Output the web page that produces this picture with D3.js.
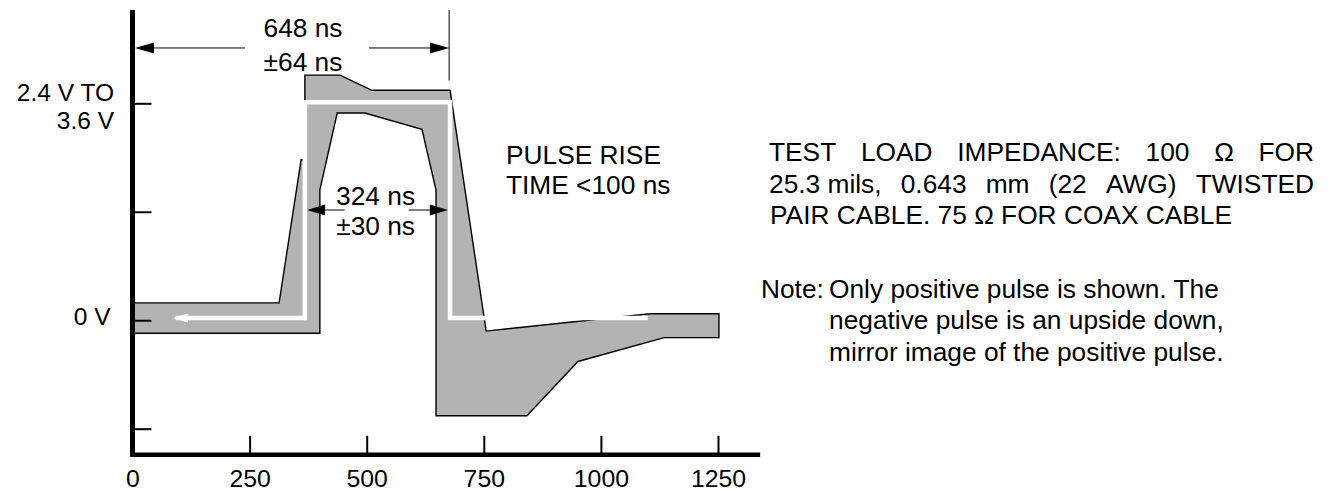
<!DOCTYPE html>
<html><head><meta charset="utf-8">
<script src="https://cdn.jsdelivr.net/npm/d3@7"></script>
<style>
html,body{margin:0;padding:0;background:#fff;}
svg{display:block;}
text{font-family:"Liberation Sans", Arial, Helvetica, sans-serif; fill:#000;}
</style></head><body>
<svg id="chart" width="1335" height="493"></svg>
<script>
// ---------- data (time in ns, amplitude normalised: 0 = 0 V, 1 = nominal peak) ----------
const xTickValues = [0, 250, 500, 750, 1000, 1250];
const yTickValues = [1, 0.5, 0, -0.5];
const yLevelValues = [1, 0];
const yLevelLabels = [["2.4 V TO", "3.6 V"], ["0 V"]];

// upper limit of the pulse template (left to right)
const maskUpper = [[0, 0.08], [313, 0.08], [360, 0.74], [368, 0.74], [368, 1.13], [443, 1.13],
                   [511, 1.06], [678, 1.06], [755, -0.05], [1105, 0.03], [1252, 0.03]];
// lower limit of the pulse template (right to left)
const maskLower = [[1252, -0.08], [1135, -0.08], [951, -0.19], [842, -0.44], [648, -0.44],
                   [648, 0.6], [618, 0.88], [496, 0.955], [437, 0.955], [400, 0.6], [400, -0.06], [0, -0.06]];
// nominal pulse (white trace), drawn from right to left ending in an arrow
const nominalPulse = [[1100, 0.01], [678, 0.01], [678, 1.005], [368, 1.005], [368, 0.01], [92, 0.01]];
const nominalArrowTip = [86, 0.01];

// dimension annotations
const periodDim = { from: 0, to: 676, level: 1.255, labelAt: 364, lines: ["648 ns", "\u00b164 ns"] };
const widthDim = { from: 368, to: 678, level: 0.508, labelAt: 519, lines: ["324 ns", "\u00b130 ns"] };

const riseNote = ["PULSE RISE", "TIME <100 ns"];
const loadNote = ["TEST LOAD IMPEDANCE: 100 \u03a9 FOR",
                  "25.3\u00a0mils, 0.643 mm (22 AWG) TWISTED",
                  "PAIR CABLE. 75 \u03a9 FOR COAX CABLE"];
const noteHead = "Note:";
const noteLines = ["Only positive pulse is shown. The",
                   "negative pulse is an upside down,",
                   "mirror image of the positive pulse."];

// ---------- drawing ----------
const svg = d3.select("#chart");
const x = d3.scaleLinear().domain([0, 1250]).range([132.5, 718]);
const y = d3.scaleLinear().domain([-0.5, 1]).range([428.7, 103.3]);
const yAxisTopV = 1.43, xAxisV = -0.62, xAxisEndNs = 1340;
const FS = 26.3, AFS = 24.8;

const line = d3.line().x(d => x(d[0])).y(d => y(d[1]));

// template mask
svg.append("path")
  .attr("d", line(maskUpper.concat(maskLower)) + "Z")
  .attr("fill", "#b3b3b3").attr("stroke", "#000").attr("stroke-width", 1.4)
  .attr("stroke-linejoin", "miter");

// nominal pulse
svg.append("path")
  .attr("d", line(nominalPulse))
  .attr("fill", "none").attr("stroke", "#fff").attr("stroke-width", 4.5)
  .attr("stroke-linejoin", "miter").attr("stroke-linecap", "butt");
{
  const tx = x(nominalArrowTip[0]), ty = y(nominalArrowTip[1]);
  svg.append("path")
    .attr("d", `M${tx},${ty}L${tx + 15},${ty - 4.5}L${tx + 15},${ty + 4.5}Z`)
    .attr("fill", "#fff");
}

// axes
const xAxisY = y(xAxisV);
const gx = svg.append("g").attr("transform", `translate(0,${xAxisY})`)
  .call(d3.axisBottom(x).tickValues(xTickValues).tickFormat(d3.format("d"))
    .tickSizeInner(-19).tickSizeOuter(0).tickPadding(14.9));
gx.select(".domain").remove();
gx.selectAll(".tick line").attr("stroke", "#000").attr("stroke-width", 2);
gx.selectAll(".tick text").attr("font-size", AFS).attr("fill", "#000")
  .attr("font-family", "'Liberation Sans', Arial, sans-serif");

const gy = svg.append("g").attr("transform", `translate(${x(0)},0)`)
  .call(d3.axisLeft(y).tickValues(yTickValues).tickSizeInner(-19).tickSizeOuter(0).tickFormat(() => ""));
gy.select(".domain").remove();
gy.selectAll(".tick line").attr("stroke", "#000").attr("stroke-width", 2);

svg.append("line").attr("x1", x(0)).attr("x2", x(0))
  .attr("y1", y(yAxisTopV)).attr("y2", xAxisY + 2.25)
  .attr("stroke", "#000").attr("stroke-width", 5);
svg.append("line").attr("x1", x(0) - 2.5).attr("x2", x(xAxisEndNs))
  .attr("y1", xAxisY).attr("y2", xAxisY)
  .attr("stroke", "#000").attr("stroke-width", 4.5);

// y level labels
const yLabelDx = [-18.5, -22];
const yLabelDy = [-2.5, 4.8];
const yLabelLead = 27.8;
yLevelValues.forEach((v, i) => {
  const t = svg.append("text").attr("text-anchor", "end").attr("font-size", 24.5);
  yLevelLabels[i].forEach((s, j) => {
    t.append("tspan").attr("x", x(0) + yLabelDx[i]).attr("y", y(v) + yLabelDy[i] + j * yLabelLead).text(s);
  });
});

// arrowhead helper
function arrowHead(tipX, yy, dir, len, half) {
  svg.append("path")
    .attr("d", `M${tipX},${yy}L${tipX - dir * len},${yy - half}L${tipX - dir * len},${yy + half}Z`)
    .attr("fill", "#000");
}

// period dimension
{
  const yy = y(periodDim.level);
  const xl = x(periodDim.from) + 2.5, xr = x(periodDim.to);
  const cx = x(periodDim.labelAt);
  svg.append("line").attr("x1", xr).attr("x2", xr).attr("y1", y(yAxisTopV)).attr("y2", y(1.105))
    .attr("stroke", "#000").attr("stroke-width", 1);
  svg.append("line").attr("x1", xl + 18).attr("x2", cx - 58).attr("y1", yy).attr("y2", yy)
    .attr("stroke", "#000").attr("stroke-width", 1);
  svg.append("line").attr("x1", cx + 66).attr("x2", xr - 18).attr("y1", yy).attr("y2", yy)
    .attr("stroke", "#000").attr("stroke-width", 1);
  arrowHead(xl, yy, -1, 19, 5.5);
  arrowHead(xr, yy, 1, 19, 5.5);
  svg.append("text").attr("x", cx).attr("y", yy - 10.5).attr("text-anchor", "middle")
    .attr("font-size", FS).text(periodDim.lines[0]);
  svg.append("text").attr("x", cx).attr("y", yy + 23).attr("text-anchor", "middle")
    .attr("font-size", FS).text(periodDim.lines[1]);
}

// pulse width dimension
{
  const yy = y(widthDim.level);
  const xl = x(widthDim.from) + 2.25, xr = x(widthDim.to) - 2.25;
  const cx = x(widthDim.labelAt);
  svg.append("line").attr("x1", xl + 18).attr("x2", cx - 31).attr("y1", yy).attr("y2", yy)
    .attr("stroke", "#000").attr("stroke-width", 1);
  svg.append("line").attr("x1", cx + 33).attr("x2", xr - 18).attr("y1", yy).attr("y2", yy)
    .attr("stroke", "#000").attr("stroke-width", 1);
  arrowHead(xl, yy, -1, 18, 5.5);
  arrowHead(xr, yy, 1, 18, 5.5);
  svg.append("text").attr("x", cx).attr("y", yy - 5).attr("text-anchor", "middle")
    .attr("font-size", FS).text(widthDim.lines[0]);
  svg.append("text").attr("x", cx).attr("y", yy + 25).attr("text-anchor", "middle")
    .attr("font-size", FS).text(widthDim.lines[1]);
}

// rise time note
riseNote.forEach((s, i) => {
  svg.append("text").attr("x", 506).attr("y", 164 + i * 30).attr("font-size", FS).text(s);
});

// test load note (first two lines justified)
const loadLeft = 769, loadRight = 1314;
loadNote.forEach((s, i) => {
  const yy = 161 + i * 31.5;
  if (i < 2) {
    const words = s.split(" ");
    const els = words.map(w => svg.append("text").attr("y", yy).attr("font-size", FS).text(w));
    const widths = els.map(e => e.node().getComputedTextLength());
    const gap = (loadRight - loadLeft - d3.sum(widths)) / (words.length - 1);
    let cur = loadLeft;
    els.forEach((e, k) => { e.attr("x", cur); cur += widths[k] + gap; });
  } else {
    svg.append("text").attr("x", loadLeft + 1).attr("y", yy).attr("font-size", FS).text(s);
  }
});

// note
svg.append("text").attr("x", 761).attr("y", 297.5).attr("font-size", FS).text(noteHead);
noteLines.forEach((s, i) => {
  svg.append("text").attr("x", 829).attr("y", 297.5 + i * 31.7).attr("font-size", FS).text(s);
});
</script>
</body></html>
